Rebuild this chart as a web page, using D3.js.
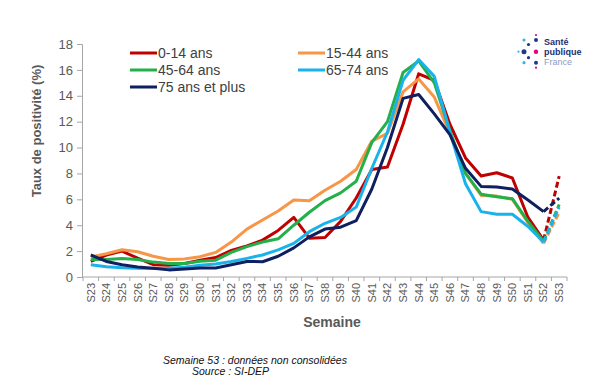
<!DOCTYPE html>
<html>
<head>
<meta charset="utf-8">
<script src="https://cdn.jsdelivr.net/npm/d3@7"></script>
<style>
  body { margin: 0; background: #fff; }
  svg { font-family: "Liberation Sans", Arial, sans-serif; }
</style>
</head>
<body>
<script>
// semaines S23 .. S53
var weeks = d3.range(23, 54).map(function(n) { return "S" + n; });
var yTicks = [0, 2, 4, 6, 8, 10, 12, 14, 16, 18];

// taux de positivite (%) par classe d'age
var age0_14 = [1.2, 1.7, 2.0, 1.45, 0.95, 0.9, 1.05, 1.3, 1.5, 2.05, 2.4, 2.85, 3.6, 4.6, 3.0, 3.05, 4.3, 6.1, 8.3, 8.5, 11.8, 15.7, 15.2, 11.8, 9.2, 7.8, 8.05, 7.65, 4.6, 2.85, 7.8];
var age15_44 = [1.55, 1.8, 2.1, 1.95, 1.6, 1.35, 1.4, 1.57, 1.9, 2.7, 3.7, 4.4, 5.1, 5.95, 5.9, 6.7, 7.4, 8.3, 10.5, 11.1, 14.3, 15.3, 13.9, 11.1, 8.0, 6.3, 6.25, 6.0, 4.2, 2.6, 5.0];
var age45_64 = [1.35, 1.35, 1.42, 1.35, 1.15, 1.05, 1.05, 1.22, 1.3, 1.9, 2.35, 2.7, 2.95, 4.0, 5.0, 5.9, 6.5, 7.4, 10.4, 12.0, 15.8, 16.7, 15.0, 11.3, 8.0, 6.4, 6.2, 6.05, 4.3, 2.75, 5.6];
var age65_74 = [0.95, 0.8, 0.72, 0.67, 0.66, 0.67, 0.75, 0.9, 1.0, 1.2, 1.44, 1.7, 2.1, 2.6, 3.5, 4.15, 4.6, 5.4, 8.4, 11.2, 15.2, 16.8, 15.5, 11.2, 7.2, 5.05, 4.85, 4.85, 3.9, 2.7, 5.4];
var age75 = [1.7, 1.2, 0.95, 0.78, 0.68, 0.55, 0.62, 0.7, 0.7, 0.95, 1.2, 1.18, 1.6, 2.25, 3.1, 3.7, 3.85, 4.35, 6.8, 10.0, 13.8, 14.1, 12.6, 11.0, 8.4, 7.0, 6.95, 6.8, 5.95, 5.05, 6.1];

var series = [
  { name: "0-14 ans", values: age0_14, color: "#c00000" },
  { name: "15-44 ans", values: age15_44, color: "#f79646" },
  { name: "45-64 ans", values: age45_64, color: "#22b04b" },
  { name: "65-74 ans", values: age65_74, color: "#1ab2ea" },
  { name: "75 ans et plus", values: age75, color: "#0f1f5f" }
];

var width = 600, height = 387;
var svg = d3.select("body").append("svg")
  .attr("width", width)
  .attr("height", height);

var x = d3.scaleBand().domain(weeks).range([83, 567]);
var y = d3.scaleLinear().domain([0, 18]).range([277, 44]);
var axisColor = "#a6a6a6", textColor = "#595959";

// axe y
var gy = svg.append("g")
  .attr("transform", "translate(82,0)")
  .call(d3.axisLeft(y).tickValues(yTicks).tickSize(5).tickPadding(4));
gy.select(".domain").attr("stroke", axisColor);
gy.selectAll(".tick line").attr("stroke", axisColor);
gy.selectAll(".tick text").attr("fill", textColor).style("font-size", "13px");

// axe x
var gx = svg.append("g")
  .attr("transform", "translate(0,277)")
  .call(d3.axisBottom(x).tickSize(0).tickSizeOuter(0));
gx.select(".domain").attr("stroke", axisColor).attr("d", "M82,0H567");
gx.selectAll(".tick text")
  .attr("fill", textColor)
  .style("font-size", "11px")
  .attr("transform", "rotate(-90)")
  .attr("text-anchor", "end")
  .attr("x", -6)
  .attr("y", 0)
  .attr("dy", "0.35em");
// petites graduations entre les semaines
svg.append("g").selectAll("line")
  .data(weeks.concat(["end"]))
  .enter().append("line")
  .attr("x1", function(d, i) { return 83 + i * x.step(); })
  .attr("x2", function(d, i) { return 83 + i * x.step(); })
  .attr("y1", 277).attr("y2", 281)
  .attr("stroke", axisColor);

// titres des axes
svg.append("text")
  .attr("transform", "translate(41,131) rotate(-90)")
  .attr("text-anchor", "middle")
  .attr("fill", textColor)
  .style("font-size", "13px").style("font-weight", "bold")
  .text("Taux de positivité  (%)");
svg.append("text")
  .attr("x", 332).attr("y", 327)
  .attr("text-anchor", "middle")
  .attr("fill", textColor)
  .style("font-size", "14px").style("font-weight", "bold")
  .text("Semaine");

// courbes
var line = d3.line()
  .x(function(d) { return x(d.w) + x.bandwidth() / 2; })
  .y(function(d) { return y(d.v); });

series.forEach(function(s) {
  var pts = s.values.map(function(v, i) { return { w: weeks[i], v: v }; });
  var n = pts.length;
  svg.append("path")
    .datum(pts.slice(0, n - 1))
    .attr("d", line)
    .attr("fill", "none")
    .attr("stroke", s.color)
    .attr("stroke-width", 3)
    .attr("stroke-linejoin", "round");
  // semaine 53 non consolidee : pointilles
  svg.append("path")
    .datum(pts.slice(n - 2))
    .attr("d", line)
    .attr("fill", "none")
    .attr("stroke", s.color)
    .attr("stroke-width", 3)
    .attr("stroke-dasharray", "6,3");
});

// legende
var legendPos = [[130, 53], [298, 53], [130, 70], [298, 70], [130, 87]];
var legend = svg.selectAll(".legend")
  .data(series)
  .enter().append("g")
  .attr("class", "legend")
  .attr("transform", function(d, i) { return "translate(" + legendPos[i][0] + "," + legendPos[i][1] + ")"; });
legend.append("line")
  .attr("x1", 0).attr("x2", 27)
  .attr("stroke", function(d) { return d.color; })
  .attr("stroke-width", 3);
legend.append("text")
  .attr("x", 28).attr("dy", "0.35em")
  .attr("fill", "#404040")
  .style("font-size", "14px")
  .text(function(d) { return d.name; });

// logo Sante publique France
var dots = [
  [524, 40, 1.6, "#35b5e5"], [528.5, 44.5, 1.6, "#1d3a8a"], [536, 35, 1.1, "#e6007e"],
  [536, 40, 2, "#1d3a8a"], [518.5, 51.7, 1.1, "#35b5e5"], [524, 51.7, 2.5, "#1d3a8a"],
  [536, 51.7, 2.2, "#e6007e"], [528.5, 57.7, 1.6, "#1d3a8a"], [524, 62.7, 1.6, "#35b5e5"],
  [536, 62.7, 2, "#1d3a8a"], [536, 67.7, 1.1, "#e6007e"]
];
svg.append("g").selectAll("circle")
  .data(dots)
  .enter().append("circle")
  .attr("cx", function(d) { return d[0]; })
  .attr("cy", function(d) { return d[1]; })
  .attr("r", function(d) { return d[2]; })
  .attr("fill", function(d) { return d[3]; });
var logo = [["Santé", 44.5, "#1d2f6f", "bold"], ["publique", 54.5, "#1d2f6f", "bold"], ["France", 64.5, "#8c9cc4", "normal"]];
svg.append("g").selectAll("text")
  .data(logo)
  .enter().append("text")
  .attr("x", 544)
  .attr("y", function(d) { return d[1]; })
  .attr("fill", function(d) { return d[2]; })
  .style("font-weight", function(d) { return d[3]; })
  .style("font-size", "9px")
  .text(function(d) { return d[0]; });

// notes
svg.append("text")
  .attr("x", 163).attr("y", 364)
  .style("font-size", "10.5px").style("font-style", "italic")
  .attr("fill", "#111")
  .text("Semaine 53 : données non consolidées");
svg.append("text")
  .attr("x", 192).attr("y", 375)
  .style("font-size", "10.5px").style("font-style", "italic")
  .attr("fill", "#111")
  .text("Source : SI-DEP");
</script>
</body>
</html>
